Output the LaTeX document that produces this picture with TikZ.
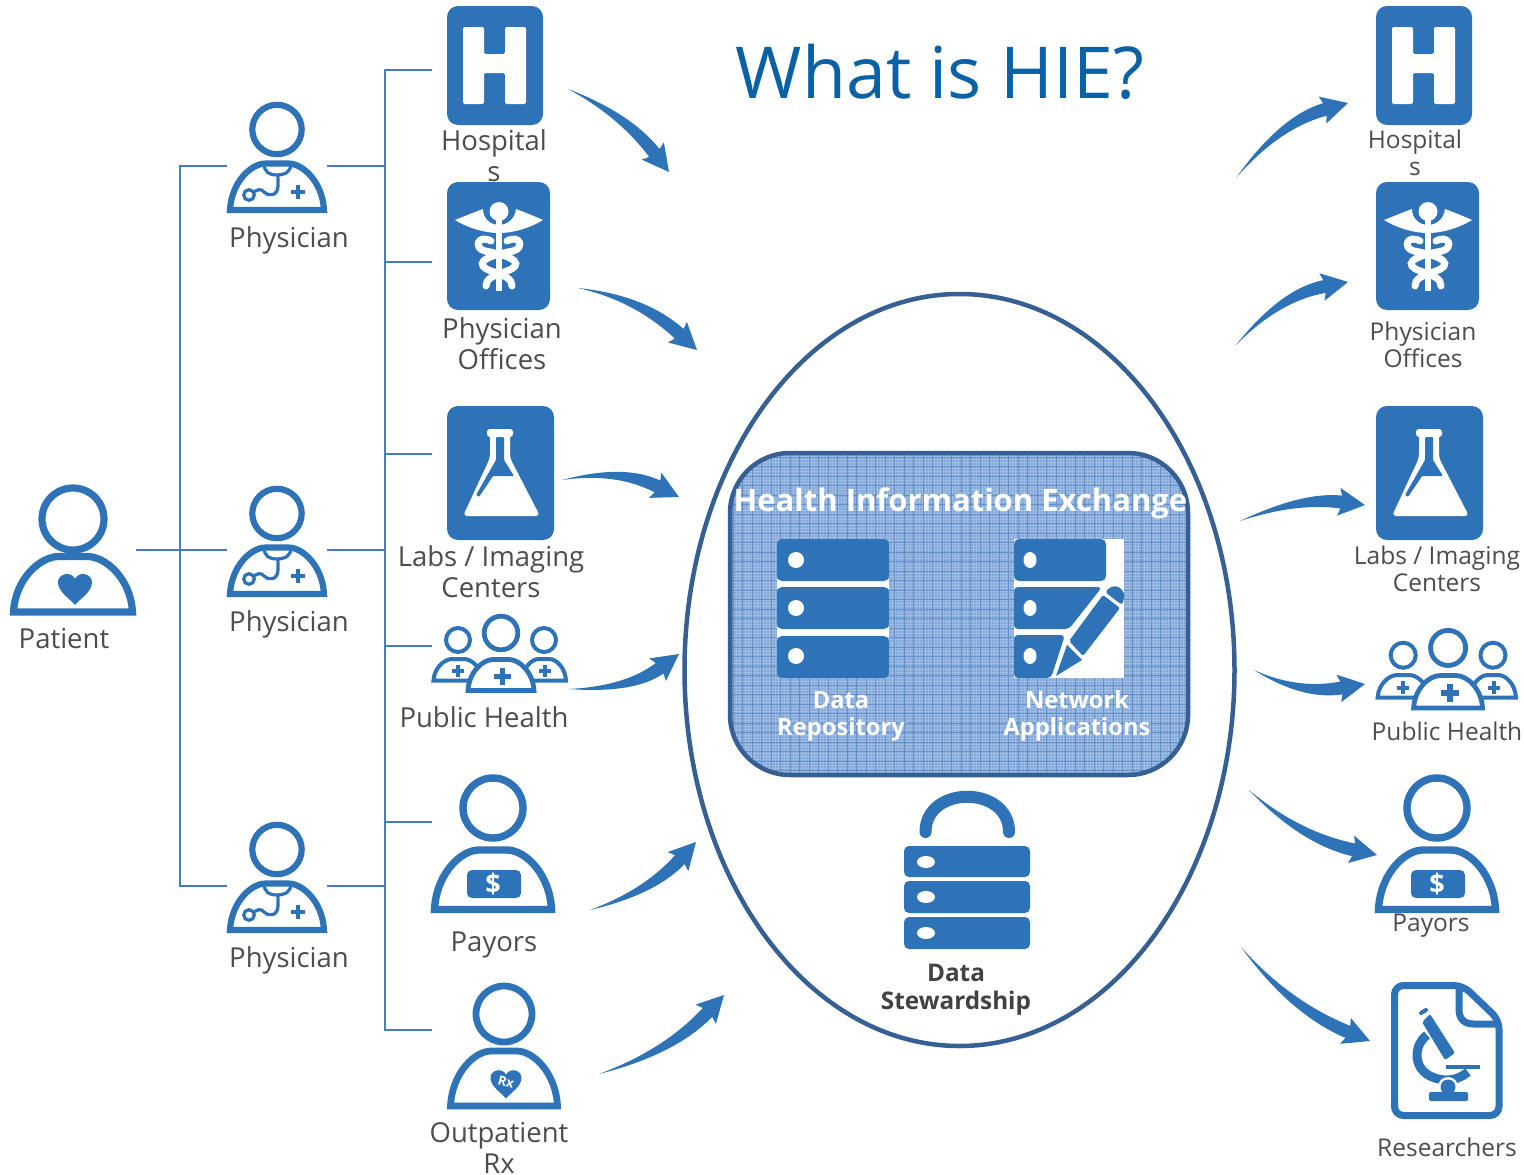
\documentclass[tikz,border=0pt]{standalone}
\usepackage{fontspec}
\setmainfont{Open Sans}
\definecolor{iconblue}{HTML}{2E72B8}
\definecolor{treeblue}{HTML}{4A7EBB}
\definecolor{textgray}{HTML}{4D4D4D}
\definecolor{titleblue}{HTML}{0A62A5}
\definecolor{ovalblue}{HTML}{365F94}
\definecolor{panelbase}{HTML}{84A9D9}
\definecolor{panelfine}{HTML}{9FBCE3}
\definecolor{panelgrid}{HTML}{6190CC}
\tikzset{
  lbl/.style={text=textgray,font=\fontsize{27.5}{31}\selectfont,align=center,inner sep=0pt},
  lblsmall/.style={text=textgray,font=\fontsize{24.5}{27}\selectfont,align=center,inner sep=0pt},
  panellbl/.style={text=white,font=\fontsize{23.7}{27}\selectfont\bfseries,align=center,inner sep=0pt},
  tree/.style={draw=treeblue,line width=2.8pt},
  icontile/.style={fill=iconblue,rounded corners=11pt},
  rowbox/.style={fill=iconblue,rounded corners=5pt},
}
% person: cx, head cy, head r, half width, body top, body bottom, line width
\newcommand\personshape[7]{%
  \draw[iconblue,line width=#7pt] (#1,#2) circle[radius=#3];
  \pgfmathsetmacro\bodyh{#6-#5}%
  \begin{scope}[shift={(#1,#6)},x=#4pt,y=\bodyh pt]
    \draw[iconblue,fill=white,line width=#7pt,miter limit=4] (-1,0) .. controls (-0.97,0.6) and (-0.55,1) .. (-0.24,1) -- (0.24,1) .. controls (0.55,1) and (0.97,0.6) .. (1,0) -- cycle;
  \end{scope}}
\newcommand\plusmark[4]{%
  \draw[iconblue,line width=#4pt] (#1-#3,#2) -- (#1+#3,#2) (#1,#2-#3) -- (#1,#2+#3);}
\newcommand\heartmark[4]{%
  \begin{scope}[shift={(#1,#2)},x=#3pt,y=-#3pt]
    \fill[#4] (0,1) .. controls (-0.3,0.62) and (-1,0.25) .. (-1,-0.35) .. controls (-1,-0.8) and (-0.3,-1.05) .. (0,-0.55) .. controls (0.3,-1.05) and (1,-0.8) .. (1,-0.35) .. controls (1,0.25) and (0.3,0.62) .. (0,1) -- cycle;
  \end{scope}}
\newcommand\physicianicon[2]{%
  \begin{scope}[shift={(#1,#2)}]
    \personshape{277}{129.5}{24.7}{47}{163.5}{210}{6.2}
    \draw[iconblue,line width=3.2pt] (264,163) .. controls (264,173) and (270,175) .. (277,175) .. controls (284,175) and (291,173) .. (291,163);
    \draw[iconblue,line width=3.2pt] (278,175) -- (278,186) .. controls (278,196) and (268,197) .. (264,192) .. controls (261,188) and (257,190) .. (254,192);
    \draw[iconblue,line width=3.2pt] (249,195) circle[radius=5.3];
    \plusmark{298}{192}{7}{3.6}
  \end{scope}}
\newcommand\hospitalicon[1]{%
  \begin{scope}[shift={(#1,0)}]
    \fill[icontile] (447,6) rectangle (543,125);
    \fill[white,rounded corners=2pt] (463,27) -- (484,27) -- (484,54) -- (505,54) -- (505,27) -- (526,27) -- (526,104) -- (505,104) -- (505,73) -- (484,73) -- (484,104) -- (463,104) -- cycle;
  \end{scope}}
\newcommand\caduceusicon[1]{%
  \begin{scope}[shift={(#1,0)}]
    \fill[icontile] (447,182) rectangle (550,310);
    \fill[white] (455,220) .. controls (465,216) and (475,212) .. (483,209) .. controls (483,220) and (492,225) .. (499,225) .. controls (506,225) and (515,220) .. (516,209) .. controls (524,212) and (534,216) .. (543,220) .. controls (528,229) and (512,233) .. (499,233) .. controls (486,233) and (470,229) .. (455,220) -- cycle;
    \fill[iconblue] (499,212) circle[radius=11.5];
    \fill[white] (499,211.5) circle[radius=9.5];
    \draw[white,line width=6pt] (499,215) -- (499,291);
    \draw[white,line width=7pt,line cap=round] (491,241) .. controls (478,234) and (473,248) .. (485,251) .. controls (518,257) and (523,265) .. (507,271) .. controls (492,276) and (486,279) .. (486,286);
    \draw[white,line width=7pt,line cap=round] (507,241) .. controls (520,234) and (525,248) .. (513,251) .. controls (480,257) and (475,265) .. (491,271) .. controls (506,276) and (512,279) .. (512,286);
  \end{scope}}
\newcommand\flaskicon[1]{%
  \begin{scope}[shift={(#1,0)}]
    \fill[icontile] (447,406) rectangle (554,540);
    \fill[white,rounded corners=4pt] (490,432) -- (510,432) -- (510,458) -- (540,516) -- (463,516) -- (490,458) -- cycle;
    \fill[white,rounded corners=3pt] (487,429) rectangle (513,437);
    \fill[iconblue,rounded corners=1pt] (496,437) -- (504,437) -- (504,460) -- (514,476) -- (493,476) -- (479,497) -- (476,495) -- (496,460) -- cycle;
  \end{scope}}
\newcommand\publichealthicon[3]{%
  \begin{scope}[shift={(#1,#2)},scale=#3]
    \personshape{458}{640}{12}{24.5}{659}{680.5}{4}
    \personshape{544}{640}{12}{22}{659}{680.5}{4}
    \personshape{501}{633}{16.8}{33}{659.5}{690.5}{4.8}
    \plusmark{458}{671}{6}{4}
    \plusmark{545}{671}{6}{4}
    \plusmark{502.5}{676.5}{8.5}{5.8}
  \end{scope}}
\newcommand\payoricon[1]{%
  \begin{scope}[shift={(#1,0)}]
    \personshape{493}{808}{30}{58.5}{850}{909.5}{7.4}
    \fill[iconblue,rounded corners=5pt] (467,870) rectangle (521,898);
    \node[text=white,font=\fontsize{27}{27}\selectfont\bfseries,inner sep=0pt] (dollar#1) at (493,884) {\$};
  \end{scope}}
% swoosh arrow: (tail)(control)(tip){name}; quadratic curve as a cubic
\def\swoosh(#1,#2)(#3,#4)(#5,#6)#7{%
  \pgfmathsetmacro\swL{veclen(#5-#3,#6-#4)}%
  \pgfmathsetmacro\swux{(#5-#3)/\swL}%
  \pgfmathsetmacro\swuy{(#6-#4)/\swL}%
  \pgfmathsetmacro\swBx{#5-24*\swux}%
  \pgfmathsetmacro\swBy{#6-24*\swuy}%
  \pgfmathsetmacro\swAx{#1+(#3-#1)*2/3}%
  \pgfmathsetmacro\swAy{#2+(#4-#2)*2/3}%
  \pgfmathsetmacro\swDx{\swBx+(#3-\swBx)*2/3}%
  \pgfmathsetmacro\swDy{\swBy+(#4-\swBy)*2/3}%
  \coordinate (#7tail) at (#1,#2);
  \coordinate (#7tip) at (#5,#6);
  \fill[iconblue] (#7tail) .. controls ({\swAx-3*\swuy},{\swAy+3*\swux}) and ({\swDx-6*\swuy},{\swDy+6*\swux}) .. ({\swBx-6.5*\swuy},{\swBy+6.5*\swux})
    -- ({\swBx-2.5*\swux-14*\swuy},{\swBy-2.5*\swuy+14*\swux}) -- (#7tip)
    -- ({\swBx-2.5*\swux+14*\swuy},{\swBy-2.5*\swuy-14*\swux})
    -- ({\swBx+6.5*\swuy},{\swBy-6.5*\swux})
    .. controls ({\swDx+6*\swuy},{\swDy-6*\swux}) and ({\swAx+3*\swuy},{\swAy-3*\swux}) .. (#7tail) -- cycle;}
\begin{document}
\begin{tikzpicture}[x=1pt,y=-1pt]
\useasboundingbox (0,0) rectangle (1524,1175);
\fill[white] (0,0) rectangle (1524,1175);

% tree coordinates
\coordinate (patR) at (136,550);
\coordinate (phyAL) at (227,166);
\coordinate (phyBL) at (227,550);
\coordinate (phyCL) at (227,886);
\coordinate (phyAR) at (327,166);
\coordinate (phyBR) at (327,550);
\coordinate (phyCR) at (327,886);
\coordinate (trunkA) at (180,550);
\coordinate (trunkB) at (385,550);
\coordinate (toHosp) at (432,70);
\coordinate (toOff) at (432,262);
\coordinate (toLab) at (432,454);
\coordinate (toPub) at (432,646);
\coordinate (toPay) at (432,822);
\coordinate (toRx) at (432,1030);
\draw[tree] (patR) -- (phyBL);
\draw[tree] (phyAL) -| (trunkA);
\draw[tree] (phyCL) -| (trunkA);
\draw[tree] (phyAR) -| (trunkB);
\draw[tree] (phyCR) -| (trunkB);
\draw[tree] (phyBR) -- (trunkB);
\draw[tree] (toHosp) -| (trunkB);
\draw[tree] (toRx) -| (trunkB);
\draw[tree] (toOff) -| (trunkB);
\draw[tree] (toLab) -| (trunkB);
\draw[tree] (toPub) -| (trunkB);
\draw[tree] (toPay) -| (trunkB);

% patient
\personshape{73}{519}{31}{59.5}{556.5}{612}{7.2}
\heartmark{75}{588}{17}{iconblue}
\node[lbl] (patient) at (64,639) {Patient};

% physicians
\physicianicon{0}{0}
\physicianicon{0}{384}
\physicianicon{0}{720}
\node[lbl] (phyA) at (289,240) {Physician};
\node[lbl] (phyB) at (289,624) {Physician};
\node[lbl] (phyC) at (289,960) {Physician};

% left column
\hospitalicon{0}
\node[lbl] (hospL) at (494,156) {Hospital\\s};
\caduceusicon{0}
\node[lbl] (offL) at (502,343.5) {Physician\\Offices};
\flaskicon{0}
\node[lbl] (labL) at (491,572) {Labs / Imaging\\Centers};
\publichealthicon{0}{0}{1}
\node[lbl] (pubL) at (484,717) {Public Health};
\payoricon{0}
\node[lbl] (payL) at (494,945) {Payors};
\personshape{504}{1014}{28}{53.5}{1051}{1106}{6.8}
\heartmark{506}{1083}{15.5}{iconblue}
\node[text=white,font=\fontsize{13}{13}\selectfont\bfseries,inner sep=0pt,rotate=-15] (rxmark) at (506,1082) {Rx};
\node[lbl] (rxL) at (499,1147.5) {Outpatient\\Rx};

% right column
\hospitalicon{929}
\node[lblsmall] (hospR) at (1415,153) {Hospital\\s};
\caduceusicon{929}
\node[lblsmall] (offR) at (1423,345) {Physician\\Offices};
\flaskicon{929}
\node[lblsmall] (labR) at (1437,569) {Labs / Imaging\\Centers};
\publichealthicon{925}{-13}{1.0441}
\node[lblsmall] (pubR) at (1447,731) {Public Health};
\payoricon{944}
\node[lblsmall] (payR) at (1431,926) {Payors};

% researchers
\draw[iconblue,line width=7pt,rounded corners=9pt] (1463,985.5) -- (1394.5,985.5) -- (1394.5,1115.5) -- (1499,1115.5) -- (1499,1020) -- cycle;
\draw[iconblue,line width=7pt] (1459,987) -- (1459,1009) .. controls (1459,1019) and (1464,1024) .. (1474,1024) -- (1499,1024);
\fill[iconblue,rounded corners=2pt] (1422,1022) -- (1430,1014) -- (1455,1053) -- (1445,1060) -- cycle;
\draw[iconblue,line width=4pt,line cap=round] (1421,1013) -- (1426,1010);
\draw[iconblue,line width=9pt] (1427,1035) .. controls (1411,1047) and (1412,1078) .. (1446,1080) .. controls (1455,1080) and (1462,1077) .. (1468,1072);
\fill[white] (1448,1087) circle[radius=10];
\fill[iconblue,rounded corners=2pt] (1429,1092) rectangle (1468,1101);
\fill[iconblue] (1448,1087) circle[radius=7.5];
\draw[iconblue,line width=3.5pt] (1446,1067) -- (1480,1067);
\node[lblsmall] (resR) at (1447,1147) {Researchers};

% title
\node[text=titleblue,font=\fontsize{71.6}{75}\selectfont,inner sep=0pt] (title) at (940,72) {What is HIE?};

% oval and panel
\draw[ovalblue,line width=4.5pt] (959.5,670) circle[x radius=275,y radius=376];
\begin{scope}
  \clip[rounded corners=60pt] (730,453) rectangle (1188,775);
  \fill[panelbase] (730,453) rectangle (1188,775);
  \foreach \gx in {730,733,...,1190} {\draw[panelfine,line width=.9pt] (\gx,453) -- (\gx,775);}
  \foreach \gy in {453,456,...,776} {\draw[panelfine,line width=.9pt] (730,\gy) -- (1188,\gy);}
  \foreach \gx in {733,742.5,...,1190} {\draw[panelgrid,line width=1pt] (\gx,453) -- (\gx,775);}
  \foreach \gy in {457,466.5,...,776} {\draw[panelgrid,line width=1pt] (730,\gy) -- (1188,\gy);}
\end{scope}
\draw[ovalblue,line width=4.5pt,rounded corners=60pt] (730,453) rectangle (1188,775);
\node[text=white,font=\fontsize{31}{33}\selectfont\bfseries,inner sep=0pt] (hietitle) at (960.5,503) {Health Information Exchange};

% data repository
\fill[white] (777,579) rectangle (889,589);
\fill[white] (777,627) rectangle (889,638);
\fill[rowbox] (777,539) rectangle (889,581);
\fill[rowbox] (777,587) rectangle (889,629);
\fill[rowbox] (777,636) rectangle (889,678);
\fill[white] (796,560) circle[radius=8];
\fill[white] (796,608) circle[radius=8];
\fill[white] (796,656) circle[radius=8];
\node[panellbl] (dataRepo) at (841,716) {Data\\Repository};

% network applications
\fill[white] (1014,539) rectangle (1124,678);
\fill[rowbox] (1014,539) rectangle (1106,581);
\fill[iconblue,rounded corners=4pt] (1014,587) -- (1102,587) -- (1069,629) -- (1014,629) -- cycle;
\fill[iconblue,rounded corners=4pt] (1014,635) -- (1065,635) -- (1051,678) -- (1014,678) -- cycle;
\fill[white] (1030,560) ellipse[x radius=6.5,y radius=8];
\fill[white] (1030,608) ellipse[x radius=6.5,y radius=8];
\fill[white] (1030,656) ellipse[x radius=6.5,y radius=8];
\fill[iconblue,rounded corners=2pt] (1069,641) -- (1103,595) -- (1120,608) -- (1083,656) -- cycle;
\fill[iconblue,rounded corners=3pt] (1105,592) -- (1112,586) -- (1120,587) -- (1125,595) -- (1122,605) -- cycle;
\fill[iconblue] (1067,645) -- (1082,660) -- (1056,676) -- cycle;
\node[panellbl] (netApps) at (1077,716) {Network\\Applications};

% data stewardship
\draw[iconblue,line width=12pt,line cap=round] (925.5,832) .. controls (925.5,785) and (1009,785) .. (1009,832);
\fill[rowbox] (904,846) rectangle (1030,877);
\fill[rowbox] (904,881) rectangle (1030,913);
\fill[rowbox] (904,917) rectangle (1030,949);
\fill[white] (926,862) ellipse[x radius=9,y radius=6];
\fill[white] (926,897) ellipse[x radius=9,y radius=6];
\fill[white] (926,933) ellipse[x radius=9,y radius=6];
\node[panellbl,text=textgray!85!black,font=\fontsize{24.3}{27.5}\selectfont\bfseries] (steward) at (956,989.5) {Data\\Stewardship};

% arrows
\swoosh(568,89)(625,115)(669,172){aA}
\swoosh(578,288)(640,298)(697,350){aB}
\swoosh(562,480)(620,468)(679,497){aC}
\swoosh(568,689)(630,690)(679,654){aD}
\swoosh(590,910)(650,892)(696,842){aE}
\swoosh(599,1074)(670,1052)(724,995){aF}
\swoosh(1236,178)(1280,122)(1348,103){aG}
\swoosh(1236,345)(1280,295)(1348,282){aH}
\swoosh(1240,521)(1300,497)(1365,505){aI}
\swoosh(1254,670)(1300,695)(1365,684){aJ}
\swoosh(1249,790)(1300,838)(1377,855){aK}
\swoosh(1241,947)(1290,1008)(1370,1041){aL}
\end{tikzpicture}
\end{document}
